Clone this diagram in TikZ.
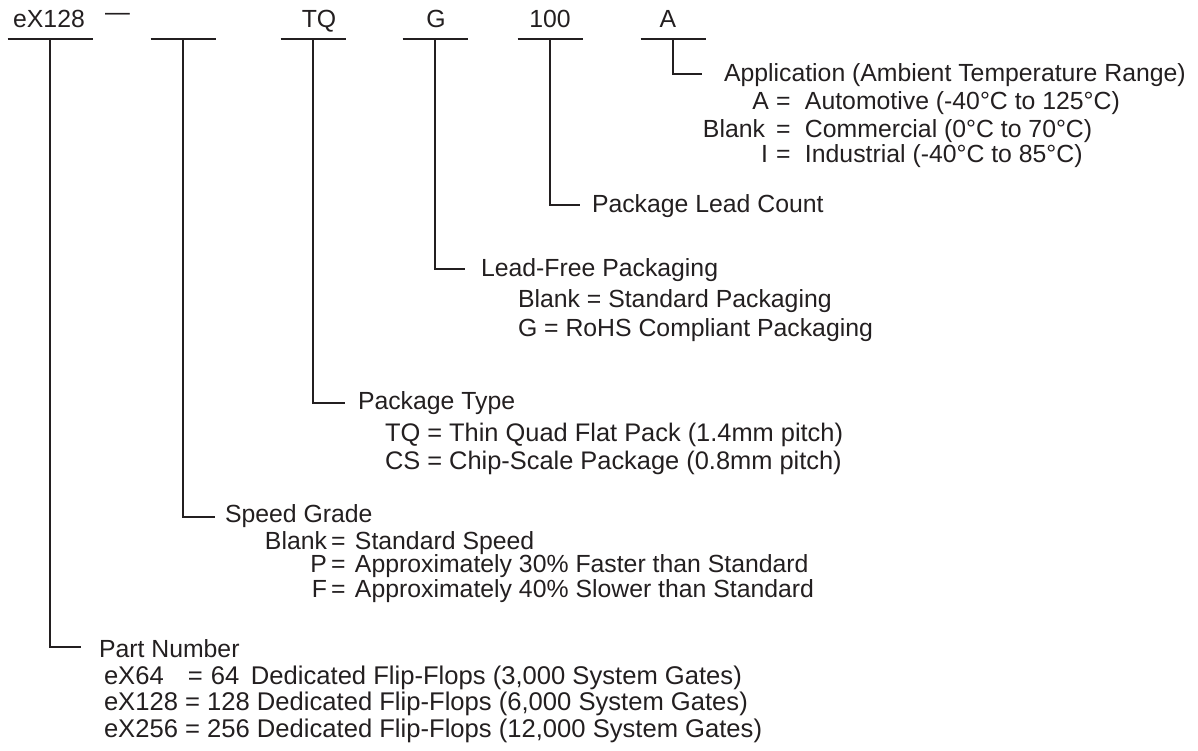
\documentclass[tikz,border=0pt]{standalone}
\usepackage{fontspec}
\setmainfont{Liberation Sans}
\definecolor{ink}{RGB}{35,31,32}
\tikzset{
  field/.style={anchor=base, inner sep=0pt},
  txt/.style={anchor=base west, inner sep=0pt},
  key/.style={anchor=base east, inner sep=0pt},
  wide/.style={font=\fontsize{25.6bp}{28bp}\selectfont},
}
\newcommand{\eqbox}[1]{\makebox[#1][l]{=}}

\begin{document}
\begin{tikzpicture}[x=1bp, y=-1bp, font=\fontsize{24.8bp}{28bp}\selectfont, color=ink, line width=2bp]
\useasboundingbox (0,0) rectangle (1198,751);
\node[field] (fPN) at (49,28) {eX128};
\node[txt] (dash) at (104,21) {—};
\node[field] (fPT) at (319,28) {TQ};
\node[field] (fLF) at (436,28) {G};
\node[field] (fLC) at (550,28) {100};
\node[field] (fAP) at (668,28) {A};
\foreach \n/\x/\w/\y/\a in {PN/50/42.5/647/31, SG/183/32.5/517/32, PT/313/32.5/403/32, LF/435/32.5/269/30, LC/550/32.5/205/30, AP/673/32.5/74/29} {
  \coordinate (s\n) at (\x,39);
  \draw (\x-\w,39) -- (\x+\w,39);
  \draw (s\n) -- (\x,\y) -- (\x+\a,\y) coordinate (e\n);
}
\node[txt] (tAP) at (723,82) {Application (Ambient Temperature Range)};
\node[key] (kAP1) at (770,110) {A};
\node[txt] (vAP1) at (775,110) {\eqbox{29bp}Automotive (-40°C to 125°C)};
\node[key] (kAP2) at (766,137) {Blank};
\node[txt] (vAP2) at (775,137) {\eqbox{29bp}Commercial (0°C to 70°C)};
\node[key] (kAP3) at (769,162) {I};
\node[txt] (vAP3) at (775,162) {\eqbox{29bp}Industrial (-40°C to 85°C)};
\node[txt] (tLC) at (591,212) {Package Lead Count};
\node[txt] (tLF) at (480,276) {Lead-Free Packaging};
\node[txt] (vLF1) at (517,307) {Blank = Standard Packaging};
\node[txt] (vLF2) at (517,336) {G = RoHS Compliant Packaging};
\node[txt] (tPT) at (357,409) {Package Type};
\node[txt, font=\fontsize{25.4bp}{28bp}\selectfont] (vPT1) at (384,441) {TQ = Thin Quad Flat Pack (1.4mm pitch)};
\node[txt, font=\fontsize{25.4bp}{28bp}\selectfont] (vPT2) at (384,469) {CS = Chip-Scale Package (0.8mm pitch)};
\node[txt] (tSG) at (224,522) {Speed Grade};
\node[key] (kSG1) at (328,549) {Blank};
\node[txt] (vSG1) at (330,549) {\eqbox{24bp}Standard Speed};
\node[key] (kSG2) at (328,572) {P};
\node[txt] (vSG2) at (330,572) {\eqbox{24bp}Approximately 30\% Faster than Standard};
\node[key] (kSG3) at (328,597) {F};
\node[txt] (vSG3) at (330,597) {\eqbox{24bp}Approximately 40\% Slower than Standard};
\node[txt] (tPN) at (98,657) {Part Number};
\node[txt, wide] (vPN1) at (103,684) {\makebox[84bp][l]{eX64}\makebox[23bp][l]{=}\makebox[40bp][l]{64}Dedicated Flip-Flops (3,000 System Gates)};
\node[txt, wide] (vPN2) at (103,710) {eX128 = 128 Dedicated Flip-Flops (6,000 System Gates)};
\node[txt, wide] (vPN3) at (103,737) {eX256 = 256 Dedicated Flip-Flops (12,000 System Gates)};
\end{tikzpicture}
\end{document}
